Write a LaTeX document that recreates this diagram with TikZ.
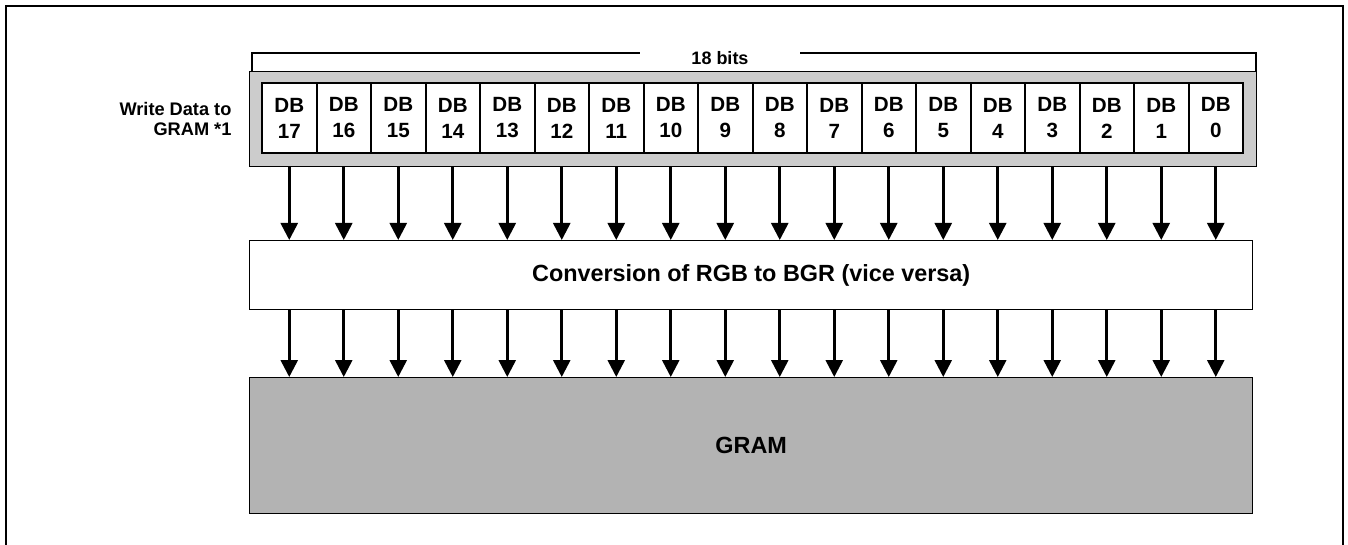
\documentclass[tikz,border=0pt]{standalone}
\usepackage{fontspec}
\setmainfont{Liberation Sans}
\usetikzlibrary{arrows.meta,calc}
\definecolor{regfill}{HTML}{CCCCCC}
\definecolor{gramfill}{HTML}{B3B3B3}
\begin{document}
\begin{tikzpicture}[x=0.5pt,y=-0.5pt,
  cellbox/.style={draw, line width=1pt, fill=white, minimum width=27.25pt, minimum height=35pt, inner sep=0pt, align=center, font=\bfseries\fontsize{10.3}{13}\selectfont},
  bigbox/.style={draw, line width=0.7pt, anchor=north west, inner sep=0pt},
  flow/.style={line width=1.3pt, -{Triangle[width=8.5pt,length=8.5pt]}},
  lbl/.style={font=\bfseries\fontsize{9}{11}\selectfont},
  biglbl/.style={font=\bfseries\fontsize{11.7}{14}\selectfont}]
\useasboundingbox (0,0) rectangle (1348,545);
\draw[line width=1.1pt] (6,546) -- (6,6) -- (1343,6) -- (1343,546);
% bracket
\draw[line width=0.6pt] (252,71) -- (252,53) -- (1256,53) -- (1256,71);
% register
\node (reg) [bigbox, fill=regfill, line width=0.6pt, minimum width=503.5pt, minimum height=47.5pt] at (249,71) {};
\node (bits) [lbl, fill=white, minimum width=80pt, minimum height=12.5pt, inner sep=0pt, anchor=south] at (720,70.6) {18 bits};
\foreach \i in {0,...,17}{
  \pgfmathtruncatemacro{\n}{17-\i}
  \node (c\i) [cellbox] at ({262+54.5*\i+27.25},118) {DB\\\n};
}
\node (wd) [lbl, font=\bfseries\fontsize{9.1}{10.2}\selectfont, align=right, anchor=east] at (238.5,119) {Write Data to\\GRAM *1};
% conversion
\node (conv) [bigbox, fill=white, minimum width=501.5pt, minimum height=34.5pt] at (249,240) {};
\node (convt) [biglbl] at (conv.center) {Conversion of RGB to BGR (vice versa)};
% GRAM
\node (gram) [bigbox, fill=gramfill, minimum width=501.5pt, minimum height=68pt] at (249,377) {};
\node (gramt) [biglbl] at (gram.center) {GRAM};
\foreach \i in {0,...,17}{
  \draw[flow] (c\i.south |- reg.south) -- (c\i.south |- conv.north);
  \draw[flow] (c\i.south |- conv.south) -- (c\i.south |- gram.north);
}
\end{tikzpicture}
\end{document}
